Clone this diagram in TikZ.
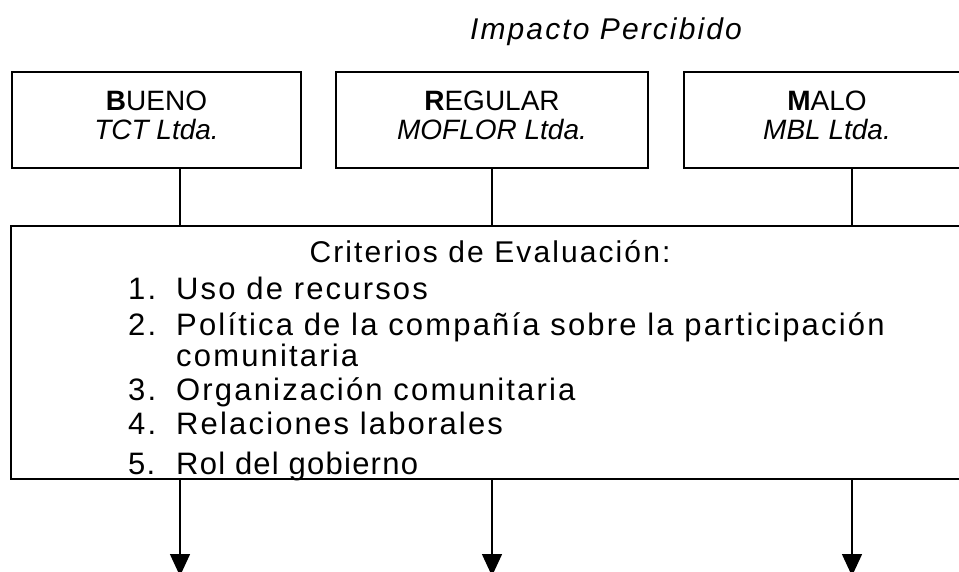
\documentclass[tikz,border=0pt]{standalone}
\usepackage{fontspec}
\setmainfont{Liberation Sans}
\newfontfamily\spacedfont[LetterSpace=7]{Liberation Sans}
\newfontfamily\tightfont[LetterSpace=4]{Liberation Sans}
\usetikzlibrary{arrows.meta}
\tikzset{
  box/.style={draw=black, line width=1.4pt, minimum height=96pt, inner sep=0pt},
  bigbox/.style={draw=black, line width=2pt, minimum width=964pt, minimum height=253pt, inner sep=0pt},
  lbl/.style={anchor=base, inner sep=0pt, font=\fontsize{28}{29}\selectfont},
  crit/.style={anchor=base west, inner sep=0pt, font=\spacedfont\fontsize{31}{34}\selectfont},
  link/.style={draw=black, line width=1.3pt},
  arr/.style={draw=black, line width=1.5pt, -{Triangle[length=22pt, width=20pt]}},
}
\begin{document}
\begin{tikzpicture}[x=1pt, y=-1pt]
\clip (0,0) rectangle (959,572);
\fill[white] (0,0) rectangle (959,572);
% title
\node[anchor=base, inner sep=0pt, font=\spacedfont\itshape\fontsize{30}{34}\selectfont] (title) at (606,40) {Impacto Percibido};
% top boxes
\node[box, minimum width=289pt] (b1) at (156.5,120) {};
\node[box, minimum width=312pt] (b2) at (492,120) {};
\node[box, minimum width=286pt] (b3) at (827,120) {};
\node[lbl] (b1a) at (156.5,111) {\textbf{B}UENO};
\node[lbl] (b1b) at (156.5,140) {\textit{TCT Ltda.}};
\node[lbl] (b2a) at (492,111) {\textbf{R}EGULAR};
\node[lbl] (b2b) at (492,140) {\textit{MOFLOR Ltda.}};
\node[lbl] (b3a) at (827,111) {\textbf{M}ALO};
\node[lbl] (b3b) at (827,140) {\textit{MBL Ltda.}};
% big box
\node[bigbox] (big) at (493,352.5) {};
\coordinate (c1) at (180,0);
\coordinate (c2) at (492,0);
\coordinate (c3) at (852,0);
\begin{scope}
\clip (big.north west) rectangle (big.south east);
\node[anchor=base, inner sep=0pt, font=\spacedfont\fontsize{30}{34}\selectfont] (crith) at (490,263) {Criterios de Evaluación:};
\node[crit] (n1) at (128,299) {1.};
\node[crit] (t1) at (176,299) {Uso de recursos};
\node[crit] (n2) at (128,335) {2.};
\node[crit] (t2) at (176,335) {Política de la compañía sobre la participación};
\node[crit] (t2b) at (176,366) {comunitaria};
\node[crit] (n3) at (128,400) {3.};
\node[crit] (t3) at (176,400) {Organización comunitaria};
\node[crit] (n4) at (128,434) {4.};
\node[crit] (t4) at (176,434) {Relaciones laborales};
\node[crit, font=\tightfont\fontsize{31}{34}\selectfont] (n5) at (128,474) {5.};
\node[crit, font=\tightfont\fontsize{31}{34}\selectfont] (t5) at (176,474) {Rol del gobierno};
\end{scope}
% connectors
\draw[link] (b1.south -| c1) -- (big.north -| c1);
\draw[link] (b2.south -| c2) -- (big.north -| c2);
\draw[link] (b3.south -| c3) -- (big.north -| c3);
% arrows
\coordinate (e1) at (180,576);
\coordinate (e2) at (492,576);
\coordinate (e3) at (852,576);
\draw[arr] (big.south -| c1) -- (e1);
\draw[arr] (big.south -| c2) -- (e2);
\draw[arr] (big.south -| c3) -- (e3);
\end{tikzpicture}
\end{document}
